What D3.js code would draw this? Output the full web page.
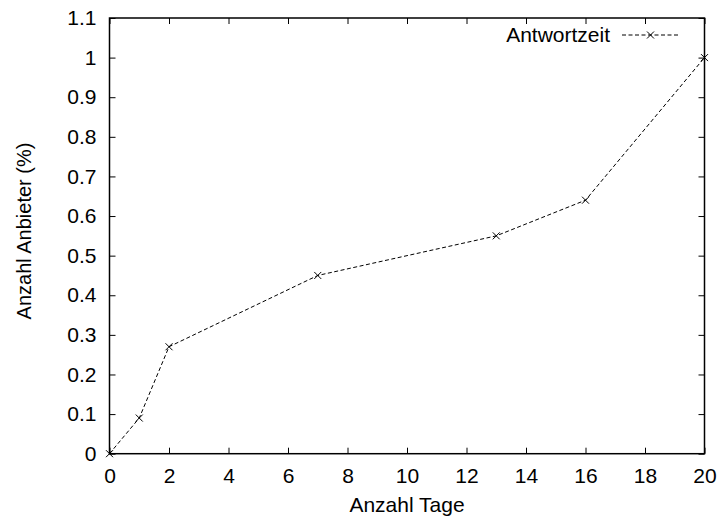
<!DOCTYPE html>
<html>
<head>
<meta charset="utf-8">
<script src="https://cdn.jsdelivr.net/npm/d3@7"></script>
<style>
  body { margin: 0; background: #fff; }
  text { font-family: "Liberation Sans", Arial, sans-serif; font-size: 21px; fill: #000; }
</style>
</head>
<body>
<script>
const days = [0, 1, 2, 7, 13, 16, 20];
const share = [0, 0.09, 0.27, 0.45, 0.55, 0.64, 1.0];
const xTicks = [0, 2, 4, 6, 8, 10, 12, 14, 16, 18, 20];
const yTicks = [0, 0.1, 0.2, 0.3, 0.4, 0.5, 0.6, 0.7, 0.8, 0.9, 1, 1.1];
const seriesName = "Antwortzeit";

const w = 721, h = 518;
const plotL = 109.5, plotR = 704.5, plotT = 18, plotB = 453.7;

const svg = d3.select("body").append("svg")
  .attr("width", w).attr("height", h);

const x = d3.scaleLinear().domain([0, 20]).range([plotL, plotR]);
const y = d3.scaleLinear().domain([0, 1.1]).range([plotB, plotT]);

// axes with inward ticks (gnuplot style, mirrored)
const tickLen = 6;
svg.append("g").attr("transform", "translate(0," + plotB + ")")
  .call(d3.axisBottom(x).tickValues(xTicks).tickSize(-tickLen).tickPadding(tickLen + 8).tickFormat(d => d))
  .call(g => g.select(".domain").remove());
svg.append("g").attr("transform", "translate(0," + plotT + ")")
  .call(d3.axisTop(x).tickValues(xTicks).tickSize(-tickLen).tickFormat(""))
  .call(g => g.select(".domain").remove());
svg.append("g").attr("transform", "translate(" + plotL + ",0)")
  .call(d3.axisLeft(y).tickValues(yTicks).tickSize(-tickLen).tickPadding(tickLen + 7).tickFormat(d => d))
  .call(g => g.select(".domain").remove());
svg.append("g").attr("transform", "translate(" + plotR + ",0)")
  .call(d3.axisRight(y).tickValues(yTicks).tickSize(-tickLen).tickFormat(""))
  .call(g => g.select(".domain").remove());

svg.selectAll(".tick line").attr("stroke", "#000").attr("stroke-width", 1);
svg.selectAll(".tick text").style("font-size", "21px").attr("fill", "#000");

// frame
svg.append("rect")
  .attr("x", plotL).attr("y", plotT)
  .attr("width", plotR - plotL).attr("height", plotB - plotT)
  .attr("fill", "none").attr("stroke", "#000").attr("stroke-width", 1.5);

// series
const pts = days.map((d, i) => [d, share[i]]);
const line = d3.line().x(d => x(d[0])).y(d => y(d[1]));
svg.append("path")
  .datum(pts)
  .attr("d", line)
  .attr("fill", "none")
  .attr("stroke", "#000")
  .attr("stroke-width", 1)
  .attr("stroke-dasharray", "4,2.5");

const m = 3.5;
function cross(g, cx, cy) {
  g.append("path")
    .attr("d", "M" + (cx - m) + "," + (cy - m) + "L" + (cx + m) + "," + (cy + m) +
               "M" + (cx - m) + "," + (cy + m) + "L" + (cx + m) + "," + (cy - m))
    .attr("stroke", "#000").attr("stroke-width", 1).attr("fill", "none");
}
const marks = svg.append("g");
pts.forEach(p => cross(marks, x(p[0]), y(p[1])));

// legend
svg.append("text")
  .attr("x", 610).attr("y", 42)
  .attr("text-anchor", "end")
  .text(seriesName);
svg.append("line")
  .attr("x1", 622).attr("x2", 679).attr("y1", 35).attr("y2", 35)
  .attr("stroke", "#000").attr("stroke-width", 1)
  .attr("stroke-dasharray", "4,2.5");
cross(svg, 650.5, 35);

// axis titles
svg.append("text")
  .attr("x", (plotL + plotR) / 2).attr("y", 512)
  .attr("text-anchor", "middle")
  .text("Anzahl Tage");
svg.append("text")
  .attr("transform", "translate(31,231) rotate(-90)")
  .attr("text-anchor", "middle")
  .style("font-size", "20px")
  .text("Anzahl Anbieter (%)");
</script>
</body>
</html>
